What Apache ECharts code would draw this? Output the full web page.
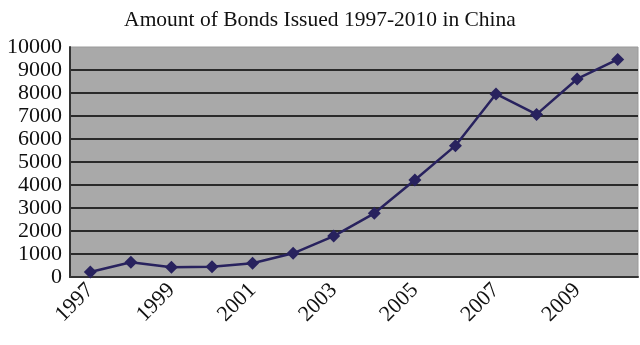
<!DOCTYPE html>
<html>
<head>
<meta charset="utf-8">
<script src="https://cdn.jsdelivr.net/npm/echarts@6/dist/echarts.min.js"></script>
<style>
  html, body { margin: 0; padding: 0; background: #fff; }
  #main { width: 640px; height: 345px; }
</style>
</head>
<body>
<div id="main"></div>
<script>
// bonds issued per year
var years = ['1997', '1998', '1999', '2000', '2001', '2002', '2003',
             '2004', '2005', '2006', '2007', '2008', '2009', '2010'];
var amounts = [220, 640, 420, 450, 600, 1030, 1780,
               2770, 4220, 5710, 7960, 7070, 8610, 9460];

var myChart = echarts.init(document.getElementById('main'));
var option = {
    animation: false,
    title: {
        text: 'Amount of Bonds Issued 1997-2010 in China',
        left: 'center',
        top: 4,
        textStyle: {
            fontFamily: 'Liberation Serif',
            fontWeight: 'normal',
            fontSize: 21.5,
            color: '#111'
        }
    },
    grid: {
        left: 70,
        right: 2,
        top: 47,
        bottom: 68,
        show: true,
        backgroundColor: '#a9a9a9',
        borderWidth: 1,
        borderColor: '#9a9a9a'
    },
    xAxis: {
        type: 'category',
        data: years,
        boundaryGap: true,
        axisLine: { lineStyle: { color: '#333', width: 2 } },
        axisTick: { inside: true, length: 4, lineStyle: { color: '#222' } },
        axisLabel: {
            interval: 1,
            rotate: 45,
            fontFamily: 'Liberation Serif',
            fontSize: 22,
            color: '#111',
            margin: 10
        }
    },
    yAxis: {
        type: 'value',
        min: 0,
        max: 10000,
        interval: 1000,
        axisLine: { show: true, lineStyle: { color: '#333', width: 2 } },
        axisTick: { show: false },
        splitLine: {
            showMaxLine: false,
            lineStyle: { color: '#2a2a2a', width: 2 }
        },
        axisLabel: {
            formatter: function (v) { return String(v); },
            fontFamily: 'Liberation Serif',
            fontSize: 22,
            color: '#111',
            margin: 8
        }
    },
    series: [
        {
            type: 'line',
            data: amounts,
            symbol: 'diamond',
            symbolSize: 13,
            lineStyle: { color: '#28225e', width: 2.5 },
            itemStyle: { color: '#28225e' }
        }
    ]
};
option && myChart.setOption(option);
</script>
</body>
</html>
